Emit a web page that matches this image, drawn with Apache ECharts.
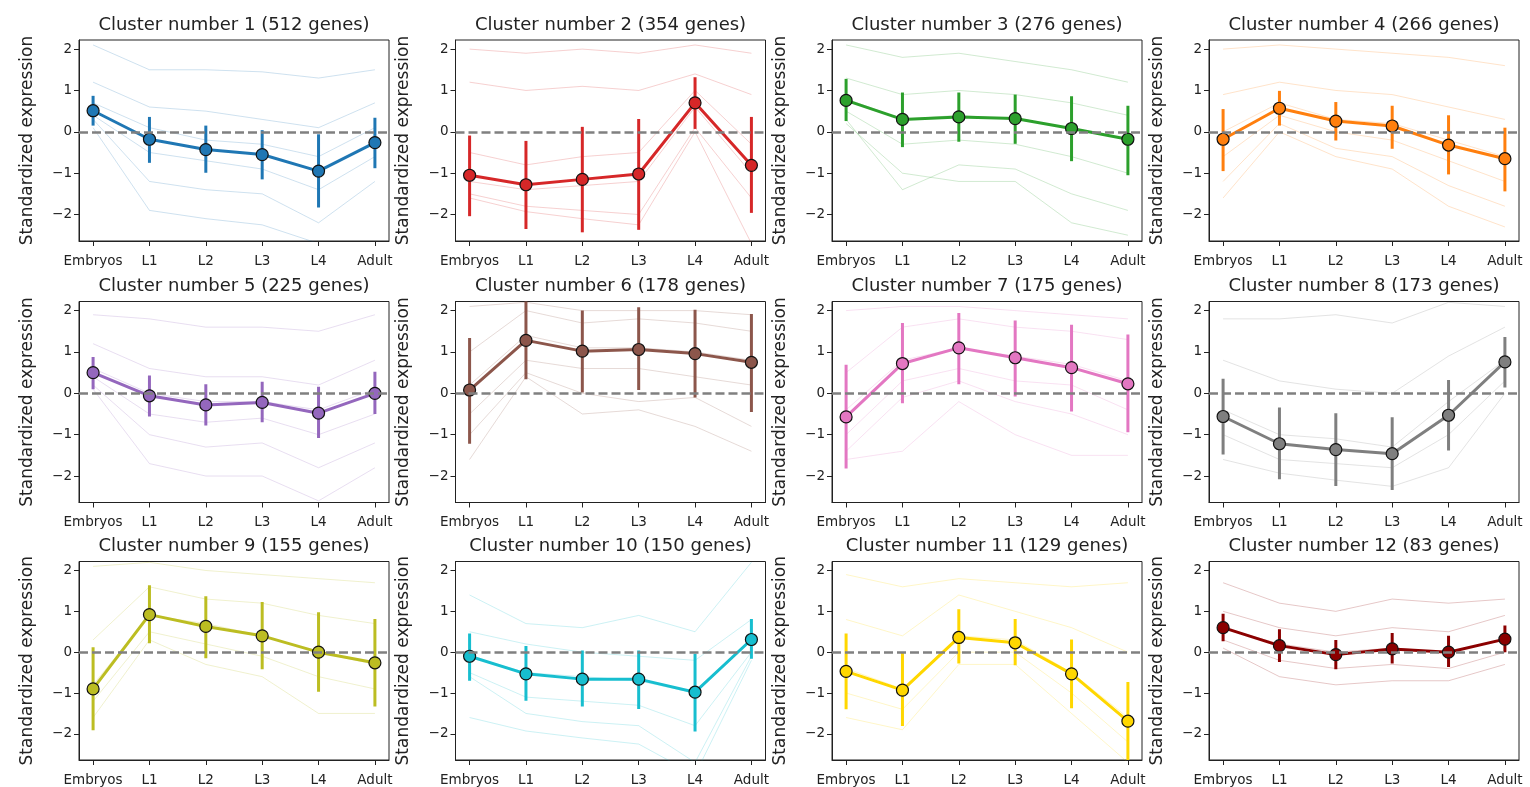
<!DOCTYPE html>
<html>
<head>
<meta charset="utf-8">
<script src="https://cdn.jsdelivr.net/npm/echarts@6/dist/echarts.min.js"></script>
<style>
  html, body { margin: 0; padding: 0; background: #fff; }
  #chart { width: 1530px; height: 787px; }
</style>
</head>
<body>
<div id="chart"></div>
<script>
var stages = ['Embryos', 'L1', 'L2', 'L3', 'L4', 'Adult'];
var geneCounts = [512, 354, 276, 266, 225, 178, 175, 173, 155, 150, 129, 83];
var colors = ['#1f77b4', '#d62728', '#2ca02c', '#ff7f0e', '#9467bd', '#8c564b',
              '#e377c2', '#7f7f7f', '#bcbd22', '#17becf', '#ffd700', '#8b0000'];
var yTicks = [-2, -1, 0, 1, 2];

// cluster means per stage
var means = [
    [0.51, -0.18, -0.43, -0.55, -0.95, -0.26],
    [-1.05, -1.28, -1.15, -1.02, 0.70, -0.81],
    [0.76, 0.30, 0.36, 0.32, 0.08, -0.18],
    [-0.18, 0.57, 0.26, 0.14, -0.32, -0.65],
    [0.50, -0.06, -0.28, -0.22, -0.48, 0.00],
    [0.08, 1.28, 1.02, 1.06, 0.96, 0.75],
    [-0.57, 0.72, 1.10, 0.86, 0.62, 0.23],
    [-0.56, -1.22, -1.36, -1.46, -0.53, 0.76],
    [-0.90, 0.92, 0.63, 0.40, 0.00, -0.26],
    [-0.10, -0.53, -0.66, -0.66, -0.98, 0.31],
    [-0.47, -0.93, 0.36, 0.23, -0.53, -1.69],
    [0.60, 0.16, -0.06, 0.08, 0.00, 0.32]
];
// error bar ends (mean +/- sd)
var errTop = [
    [0.87, 0.36, 0.15, 0.04, -0.06, 0.34],
    [-0.09, -0.22, 0.12, 0.31, 1.32, 0.36],
    [1.28, 0.95, 0.95, 0.90, 0.86, 0.63],
    [0.55, 0.99, 0.72, 0.63, 0.40, 0.10],
    [0.88, 0.43, 0.22, 0.28, 0.16, 0.52],
    [1.34, 2.30, 2.00, 2.08, 2.02, 1.92],
    [0.69, 1.70, 1.94, 1.76, 1.66, 1.42],
    [0.35, -0.34, -0.48, -0.58, 0.32, 1.36],
    [0.12, 1.64, 1.37, 1.23, 0.98, 0.81],
    [0.46, 0.15, 0.04, 0.04, -0.04, 0.81],
    [0.46, -0.02, 1.05, 0.81, 0.31, -0.73],
    [0.94, 0.56, 0.30, 0.47, 0.40, 0.65]
];
var errBottom = [
    [0.15, -0.75, -0.99, -1.15, -1.83, -0.88],
    [-2.04, -2.35, -2.43, -2.37, 0.07, -1.96],
    [0.26, -0.37, -0.24, -0.29, -0.71, -1.05],
    [-0.95, 0.15, -0.21, -0.41, -1.03, -1.44],
    [0.10, -0.56, -0.78, -0.70, -1.08, -0.50],
    [-1.22, 0.34, 0.02, 0.08, -0.10, -0.45],
    [-1.82, -0.24, 0.22, -0.08, -0.44, -0.94],
    [-1.48, -2.08, -2.24, -2.34, -1.38, 0.14],
    [-1.91, 0.22, -0.15, -0.42, -0.97, -1.33],
    [-0.70, -1.19, -1.33, -1.39, -1.94, -0.16],
    [-1.40, -1.81, -0.28, -0.32, -1.37, -2.75],
    [0.27, -0.24, -0.42, -0.28, -0.36, 0.00]
];
var geneLines = [
    [[2.1, 1.5, 1.5, 1.45, 1.3, 1.5], [1.2, 0.6, 0.5, 0.3, 0.1, 0.7], [0.7, 0.1, -0.2, -0.3, -0.6, 0.1],
     [0.4, -0.5, -0.7, -0.9, -1.4, -0.6], [0.3, -1.2, -1.4, -1.5, -2.2, -1.2], [0.1, -1.9, -2.1, -2.25, -2.7, -2.7]],
    [[2.0, 1.9, 2.0, 1.9, 2.1, 1.9], [1.2, 1.0, 1.1, 1.0, 1.4, 0.9], [-0.5, -0.8, -0.6, -0.5, 1.0, -0.3],
     [-1.2, -1.4, -1.3, -1.2, 0.6, -1.0], [-1.5, -1.8, -1.9, -2.0, 0.1, -1.6], [-1.6, -1.93, -2.1, -2.25, 0.0, -2.7]],
    [[2.1, 1.8, 1.9, 1.7, 1.5, 1.2], [1.3, 0.9, 1.0, 0.9, 0.7, 0.4], [0.8, 0.3, 0.4, 0.3, 0.1, -0.2],
     [0.5, -0.3, -0.2, -0.3, -0.6, -1.0], [0.3, -1.4, -0.8, -0.9, -1.5, -1.9], [0.2, -1.0, -1.2, -1.2, -2.2, -2.5]],
    [[2.0, 2.1, 2.0, 1.9, 1.8, 1.6], [0.9, 1.2, 1.0, 0.9, 0.6, 0.3], [0.0, 0.7, 0.3, 0.2, -0.2, -0.6],
     [-0.6, 0.4, 0.0, -0.2, -0.7, -1.2], [-1.2, 0.2, -0.4, -0.6, -1.3, -1.8], [-1.6, 0.0, -0.6, -0.9, -1.8, -2.3]],
    [[1.9, 1.8, 1.6, 1.6, 1.5, 1.9], [1.2, 0.6, 0.4, 0.4, 0.2, 0.8], [0.6, 0.0, -0.2, -0.2, -0.4, 0.1],
     [0.4, -0.5, -0.7, -0.6, -1.0, -0.5], [0.2, -1.0, -1.3, -1.2, -1.8, -1.2], [0.1, -1.7, -2.0, -2.0, -2.6, -1.8]],
    [[2.1, 2.2, 2.0, 2.0, 2.0, 1.9], [1.0, 2.0, 1.7, 1.8, 1.7, 1.5], [0.2, 1.4, 1.1, 1.1, 1.0, 0.8],
     [-0.5, 0.8, 0.6, 0.6, 0.4, 0.2], [-1.0, 0.5, 0.0, -0.2, -0.1, -0.8], [-1.6, 0.4, -0.5, -0.4, -0.8, -1.4]],
    [[2.0, 2.1, 2.1, 2.0, 1.9, 1.8], [0.5, 1.6, 1.8, 1.6, 1.5, 1.3], [-0.4, 0.8, 1.1, 0.9, 0.7, 0.3],
     [-1.0, 0.3, 0.6, 0.3, 0.2, -0.4], [-1.4, -0.1, 0.3, -0.2, -0.5, -1.0], [-1.6, -1.4, -0.2, -1.0, -1.5, -1.5]],
    [[1.8, 1.8, 1.9, 1.7, 2.2, 2.1], [0.8, 0.3, 0.1, 0.0, 0.9, 1.6], [-0.4, -1.0, -1.1, -1.3, -0.2, 0.8],
     [-1.0, -1.6, -1.7, -1.8, -1.0, 0.3], [-1.6, -1.93, -2.1, -2.25, -1.8, 0.0]],
    [[2.1, 2.2, 2.0, 1.9, 1.8, 1.7], [0.3, 1.6, 1.3, 1.2, 0.9, 0.7], [-0.8, 0.9, 0.7, 0.4, 0.0, -0.3],
     [-1.2, 0.5, 0.2, -0.1, -0.6, -0.9], [-1.6, 0.3, -0.3, -0.6, -1.5, -1.5]],
    [[1.4, 0.7, 0.6, 0.9, 0.5, 2.2], [0.5, 0.2, 0.0, -0.1, -0.2, 0.8], [-0.1, -0.5, -0.6, -0.7, -1.0, 0.3],
     [-0.5, -1.1, -1.2, -1.3, -1.8, 0.0], [-1.6, -1.93, -2.1, -2.25, -3.0, -0.2], [-0.6, -1.5, -1.7, -1.8, -2.7, -0.1]],
    [[1.9, 1.6, 1.8, 1.7, 1.6, 1.7], [0.8, 0.4, 1.4, 1.0, 0.6, 0.0], [-0.4, -0.9, 0.4, 0.3, -0.5, -1.6],
     [-1.0, -1.4, 0.0, 0.0, -1.0, -2.2], [-1.6, -1.9, -0.3, -0.3, -1.5, -2.7]],
    [[1.7, 1.2, 1.0, 1.3, 1.2, 1.3], [1.0, 0.6, 0.4, 0.6, 0.5, 0.9], [0.6, 0.2, 0.0, 0.1, 0.0, 0.3],
     [0.3, -0.2, -0.4, -0.3, -0.4, 0.0], [0.1, -0.6, -0.8, -0.7, -0.7, -0.3]]
];

var FONT = '"DejaVu Sans", sans-serif';
var INK = '#222';
var gridLefts = [79, 455.5, 832, 1209];
var gridTops = [40, 301.5, 561.5];

function pairs(arr) {
    return arr.map(function (v, j) { return [j, v]; });
}

function buildOption() {
    var grids = [], xAxes = [], yAxes = [], titles = [], series = [];

    means.forEach(function (m, i) {
        var gLeft = gridLefts[i % 4], gTop = gridTops[Math.floor(i / 4)];
        var color = colors[i];

        grids.push({
            left: gLeft, top: gTop, width: 310, height: 201,
            show: true, borderColor: INK, borderWidth: 1
        });
        titles.push({
            text: 'Cluster number ' + (i + 1) + ' (' + geneCounts[i] + ' genes)',
            left: gLeft + 155, top: gTop - 24, textAlign: 'center', padding: 0,
            textStyle: {fontFamily: FONT, fontSize: 18, fontWeight: 'normal', color: INK}
        });
        xAxes.push({
            gridIndex: i, type: 'value', min: -0.25, max: 5.25,
            axisLine: {show: true, onZero: false, lineStyle: {color: INK, width: 1}},
            splitLine: {show: false},
            axisTick: {show: true, inside: false, customValues: [0, 1, 2, 3, 4, 5], length: 5,
                       lineStyle: {color: INK}},
            axisLabel: {
                customValues: [0, 1, 2, 3, 4, 5], margin: 13,
                fontFamily: FONT, fontSize: 13.5, color: INK,
                formatter: function (v) { return stages[Math.round(v)]; }
            }
        });
        yAxes.push({
            gridIndex: i, type: 'value', min: -2.64, max: 2.22,
            name: 'Standardized expression', nameLocation: 'middle', nameGap: 43,
            nameTextStyle: {fontFamily: FONT, fontSize: 17, color: INK},
            axisLine: {show: true, onZero: false, lineStyle: {color: INK, width: 1}},
            splitLine: {show: false},
            axisTick: {show: true, inside: false, customValues: yTicks, length: 5,
                       lineStyle: {color: INK}},
            axisLabel: {
                customValues: yTicks, margin: 7,
                fontFamily: FONT, fontSize: 13.5, color: INK,
                formatter: function (v) { return v < 0 ? '\u2212' + Math.abs(v) : String(v); }
            }
        });

        // faint gene profiles
        geneLines[i].forEach(function (g, k) {
            var s = {
                type: 'line', xAxisIndex: i, yAxisIndex: i, data: pairs(g),
                symbol: 'none', silent: true, z: 1,
                lineStyle: {color: color, width: 1, opacity: 0.22}
            };
            if (k === 0) {
                s.markLine = {
                    silent: true, symbol: 'none', label: {show: false},
                    lineStyle: {color: '#808080', type: [9, 4], width: 2.5, opacity: 1},
                    data: [{yAxis: 0}]
                };
            }
            series.push(s);
        });

        // error bars
        series.push({
            type: 'custom', xAxisIndex: i, yAxisIndex: i, silent: true, clip: true, z: 3,
            data: stages.map(function (st, j) { return [j, errBottom[i][j], errTop[i][j]]; }),
            renderItem: function (params, api) {
                var p1 = api.coord([api.value(0), api.value(1)]);
                var p2 = api.coord([api.value(0), api.value(2)]);
                return {
                    type: 'line',
                    shape: {x1: p1[0], y1: p1[1], x2: p2[0], y2: p2[1]},
                    style: {stroke: color, lineWidth: 3}
                };
            }
        });

        // cluster mean
        series.push({
            type: 'line', xAxisIndex: i, yAxisIndex: i, data: pairs(m),
            symbol: 'circle', symbolSize: 12, showSymbol: true, silent: true, z: 4,
            lineStyle: {color: color, width: 3},
            itemStyle: {color: color, borderColor: '#111', borderWidth: 1.2}
        });
    });

    return {
        animation: false,
        backgroundColor: '#fff',
        title: titles,
        grid: grids,
        xAxis: xAxes,
        yAxis: yAxes,
        series: series
    };
}

var chart = echarts.init(document.getElementById('chart'));
chart.setOption(buildOption());
</script>
</body>
</html>
